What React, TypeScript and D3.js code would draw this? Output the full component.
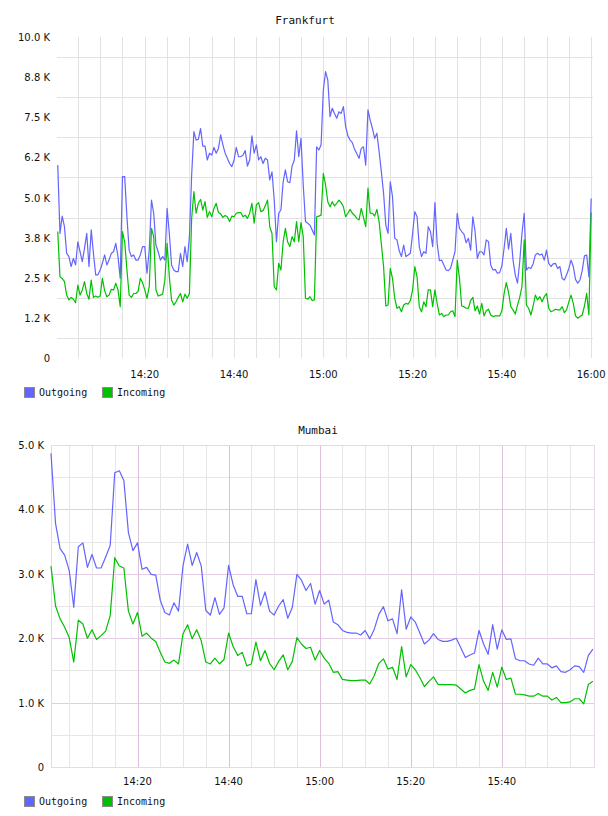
import React, { useRef, useEffect } from 'react'
import * as d3 from 'd3'

// traffic per site, values in K
const seriesNames = ['Outgoing', 'Incoming']
const seriesColors = ['#6464ff', '#00c000']

// Frankfurt: 30 s samples starting 14:00:30
const fraStart = '14:00:30'
const fraStepSec = 30
const fraOutgoing = [
  6.01, 3.88, 4.42, 4.09, 3.26, 3.16, 2.85, 3.10, 2.90, 3.62,
  3.31, 3.00, 3.42, 3.88, 2.85, 3.99, 3.26, 2.59, 2.59, 2.74,
  2.95, 3.21, 2.90, 3.05, 3.26, 3.31, 3.57, 3.16, 2.48, 5.65,
  5.65, 4.40, 3.36, 3.16, 3.21, 3.05, 3.05, 3.21, 3.47, 3.47,
  2.64, 3.36, 4.92, 4.51, 3.52, 3.31, 3.05, 3.16, 3.05, 4.66,
  3.88, 2.90, 2.74, 2.69, 2.69, 3.26, 2.85, 3.47, 3.00, 3.78,
  5.70, 7.05, 6.79, 6.81, 7.15, 6.60, 6.60, 6.17, 6.38, 6.32,
  6.56, 6.38, 6.53, 6.95, 6.64, 6.38, 6.22, 6.06, 5.96, 6.17,
  6.56, 6.27, 6.27, 6.32, 6.46, 5.98, 6.17, 6.92, 6.38, 6.64,
  6.17, 6.27, 6.06, 6.22, 6.17, 5.55, 5.80, 4.92, 3.62, 4.51,
  4.61, 5.49, 5.86, 5.49, 5.46, 5.98, 6.17, 7.08, 6.27, 6.84,
  5.39, 4.25, 4.20, 4.14, 3.99, 3.83, 6.58, 6.48, 6.64, 8.35,
  8.92, 8.66, 7.52, 7.78, 7.62, 7.47, 7.67, 7.62, 7.83, 7.21,
  6.92, 6.79, 6.71, 6.50, 6.36, 6.22, 6.53, 6.58, 6.01, 7.73,
  7.41, 7.15, 6.84, 7.00, 6.43, 5.80, 5.13, 4.14, 3.88, 5.49,
  5.03, 3.73, 3.68, 3.34, 3.16, 3.52, 3.16, 3.21, 3.26, 3.88,
  4.56, 4.40, 3.47, 3.16, 3.31, 3.26, 4.09, 3.94, 3.47, 4.84,
  3.57, 3.03, 3.05, 2.90, 2.74, 2.72, 2.79, 3.05, 3.31, 4.51,
  4.04, 3.94, 3.86, 3.59, 3.73, 3.36, 4.40, 3.94, 3.10, 3.31,
  3.31, 3.21, 3.68, 3.62, 2.90, 2.74, 2.76, 2.64, 2.66, 2.87,
  3.42, 4.04, 3.39, 3.88, 3.05, 2.59, 2.33, 3.00, 3.88, 4.51,
  2.74, 2.82, 2.79, 2.93, 3.21, 3.26, 3.21, 3.24, 3.05, 3.36,
  2.95, 2.85, 2.93, 2.95, 2.79, 2.85, 2.48, 2.43, 2.59, 2.79,
  3.05, 2.85, 2.45, 2.33, 2.43, 2.72, 3.18, 3.21, 2.53, 4.97
]
const fraIncoming = [
  3.94, 2.53, 2.48, 2.38, 1.96, 1.81, 1.89, 1.83, 1.72, 2.27,
  1.96, 2.12, 2.38, 2.01, 1.83, 2.43, 1.89, 1.93, 1.89, 1.93,
  2.48, 2.10, 1.91, 1.96, 2.14, 2.12, 2.33, 2.12, 1.60, 3.94,
  3.62, 2.74, 1.96, 1.89, 2.01, 2.01, 2.07, 2.48, 2.35, 2.12,
  1.86, 2.22, 4.04, 3.78, 2.12, 1.93, 1.96, 1.99, 2.43, 3.57,
  2.53, 1.81, 1.65, 1.75, 1.89, 2.01, 1.75, 1.99, 1.86, 2.01,
  4.35, 5.18, 4.51, 4.82, 4.94, 4.61, 4.87, 4.38, 4.56, 4.40,
  4.66, 4.82, 4.53, 4.49, 4.38, 4.44, 4.40, 4.25, 4.42, 4.40,
  4.51, 4.53, 4.53, 4.40, 4.45, 4.35, 4.51, 4.82, 4.20, 4.77,
  4.84, 4.56, 4.59, 4.74, 4.92, 4.09, 3.88, 2.22, 2.12, 2.95,
  2.74, 3.62, 4.04, 3.62, 3.47, 3.78, 3.62, 4.25, 3.62, 4.22,
  3.78, 1.86, 1.83, 1.91, 1.79, 1.81, 4.40, 4.42, 4.45, 5.75,
  5.39, 4.87, 4.71, 4.87, 4.74, 4.82, 4.92, 4.84, 4.71, 4.40,
  4.51, 4.63, 4.51, 4.44, 4.35, 4.30, 4.66, 4.38, 4.09, 5.29,
  4.51, 4.51, 4.42, 4.63, 4.25, 3.55, 2.85, 1.62, 1.65, 2.79,
  2.48, 1.86, 1.55, 1.60, 1.44, 1.65, 1.70, 1.68, 1.79, 2.12,
  2.85, 2.53, 1.60, 1.44, 1.75, 1.60, 2.12, 2.12, 1.60, 2.12,
  1.70, 1.34, 1.39, 1.29, 1.34, 1.34, 1.44, 1.47, 1.29, 3.05,
  2.48, 1.62, 1.60, 1.55, 1.55, 1.79, 1.89, 1.47, 1.62, 1.37,
  1.70, 1.31, 1.47, 1.52, 1.34, 1.29, 1.31, 1.31, 1.31, 1.47,
  2.01, 2.35, 2.04, 1.60, 1.50, 1.37, 1.65, 1.89, 2.22, 3.68,
  1.65, 1.55, 1.34, 1.62, 1.96, 1.81, 1.91, 1.75, 1.91, 2.01,
  1.55, 1.44, 1.47, 1.52, 1.50, 1.50, 1.60, 1.41, 1.50, 1.75,
  1.96, 1.70, 1.31, 1.24, 1.29, 1.34, 1.62, 2.01, 1.34, 4.53
]
const fraYTicks = [0, 1.25, 2.5, 3.75, 5, 6.25, 7.5, 8.75, 10]
const fraYLabels = ['0', '1.2 K', '2.5 K', '3.8 K', '5.0 K', '6.2 K', '7.5 K', '8.8 K', '10.0 K']
const fraTimeLabels = ['14:20', '14:40', '15:00', '15:20', '15:40', '16:00']

// Mumbai: 1 min samples starting 14:01
const mumStart = '14:01:00'
const mumStepSec = 60
const mumOutgoing = [
  4.87, 3.78, 3.39, 3.29, 3.05, 2.48, 3.42, 3.48, 3.10, 3.30,
  3.09, 3.09, 3.26, 3.44, 4.57, 4.60, 4.45, 3.64, 3.36, 3.48,
  3.07, 3.10, 2.99, 2.98, 2.59, 2.40, 2.36, 2.55, 2.42, 3.13,
  3.46, 3.13, 3.33, 3.12, 2.43, 2.36, 2.63, 2.37, 2.47, 3.13,
  2.83, 2.65, 2.65, 2.38, 2.38, 2.91, 2.51, 2.72, 2.42, 2.36,
  2.50, 2.60, 2.31, 2.48, 2.99, 2.90, 2.74, 2.85, 2.53, 2.74,
  2.53, 2.59, 2.25, 2.21, 2.12, 2.09, 2.08, 2.08, 2.05, 2.12,
  1.99, 2.14, 2.37, 2.49, 2.27, 2.30, 2.07, 2.75, 2.14, 2.33,
  2.25, 2.08, 1.91, 1.97, 2.07, 1.98, 1.95, 1.95, 1.97, 2.00,
  1.85, 1.70, 1.74, 1.77, 2.12, 1.91, 1.75, 2.21, 1.83, 2.13,
  1.98, 1.99, 1.68, 1.65, 1.65, 1.60, 1.58, 1.69, 1.60, 1.60,
  1.54, 1.57, 1.48, 1.47, 1.51, 1.57, 1.56, 1.47, 1.73, 1.83
]
const mumIncoming = [
  3.12, 2.50, 2.30, 2.17, 2.01, 1.63, 2.28, 2.22, 2.00, 2.13,
  1.98, 2.04, 2.11, 2.35, 3.25, 3.12, 3.09, 2.42, 2.22, 2.40,
  2.03, 2.08, 2.00, 1.95, 1.78, 1.63, 1.61, 1.66, 1.60, 2.07,
  2.21, 1.99, 2.13, 1.96, 1.63, 1.60, 1.69, 1.60, 1.67, 2.08,
  1.87, 1.73, 1.78, 1.57, 1.60, 1.94, 1.65, 1.81, 1.61, 1.51,
  1.64, 1.74, 1.51, 1.64, 2.01, 1.91, 1.84, 1.86, 1.66, 1.81,
  1.69, 1.61, 1.47, 1.48, 1.36, 1.35, 1.34, 1.34, 1.35, 1.35,
  1.29, 1.42, 1.61, 1.68, 1.52, 1.55, 1.36, 1.87, 1.40, 1.59,
  1.51, 1.39, 1.25, 1.33, 1.40, 1.28, 1.28, 1.28, 1.28, 1.27,
  1.21, 1.15, 1.19, 1.21, 1.59, 1.33, 1.19, 1.47, 1.24, 1.55,
  1.36, 1.38, 1.13, 1.13, 1.12, 1.10, 1.10, 1.14, 1.10, 1.10,
  1.04, 1.08, 1.00, 1.00, 1.01, 1.06, 1.06, 0.98, 1.28, 1.33
]
const mumYTicks = [0, 1, 2, 3, 4, 5]
const mumYLabels = ['0', '1.0 K', '2.0 K', '3.0 K', '4.0 K', '5.0 K']
const mumTimeLabels = ['14:20', '14:40', '15:00', '15:20', '15:40']

const parseSec = d3.timeParse('%H:%M:%S')
const parseMin = d3.timeParse('%H:%M')

const toPoints = (start, stepSec, values) => {
  const t0 = parseSec(start)
  return values.map((v, i) => ({ t: d3.timeSecond.offset(t0, i * stepSec), v }))
}

const panels = [
  {
    title: 'Frankfurt', titleX: 305, titleY: 24,
    left: 57, right: 593, top: 37, bottom: 358,
    domain: ['14:00:20', '16:00:25'], yMax: 10,
    yTicks: fraYTicks, yLabels: fraYLabels, labelRight: 50,
    timeLabels: fraTimeLabels, timeLabelY: 378, legendY: 387,
    series: [toPoints(fraStart, fraStepSec, fraOutgoing), toPoints(fraStart, fraStepSec, fraIncoming)],
    framed: false
  },
  {
    title: 'Mumbai', titleX: 318, titleY: 434,
    left: 51, right: 594, top: 445, bottom: 767,
    domain: ['14:01:00', '16:00:15'], yMax: 5,
    yTicks: mumYTicks, yLabels: mumYLabels, labelRight: 44,
    timeLabels: mumTimeLabels, timeLabelY: 785, legendY: 796,
    series: [toPoints(mumStart, mumStepSec, mumOutgoing), toPoints(mumStart, mumStepSec, mumIncoming)],
    framed: true
  }
]

const crisp = v => Math.round(v) + 0.5

function drawPanel(svg, p) {
  const g = svg.append('g')
  const x = d3.scaleTime().domain(p.domain.map(parseSec)).range([p.left, p.right])
  const y = d3.scaleLinear().domain([0, p.yMax]).range([p.bottom, p.top])

  const minutes = d3.timeMinute.every(5).range(x.domain()[0], x.domain()[1])

  if (p.framed) {
    // half-K minor lines, whole-K major lines, 20-min major verticals
    d3.range(0.5, p.yMax, 0.5).forEach(v => {
      const major = v % 1 === 0
      g.append('line')
        .attr('x1', p.left).attr('x2', p.right)
        .attr('y1', crisp(y(v))).attr('y2', crisp(y(v)))
        .attr('stroke', major ? '#e4cce4' : '#e6e6e6')
    })
    minutes
      .filter(t => x(t) > p.left + 3 && x(t) < p.right - 3)
      .forEach(t => {
        const major = t.getMinutes() % 20 === 0
        g.append('line')
          .attr('x1', crisp(x(t))).attr('x2', crisp(x(t)))
          .attr('y1', p.top).attr('y2', p.bottom)
          .attr('stroke', major ? '#dcc0dc' : '#e6e6e6')
      })
    g.append('rect')
      .attr('x', crisp(p.left)).attr('y', crisp(p.top))
      .attr('width', Math.round(p.right - p.left)).attr('height', Math.round(p.bottom - p.top))
      .attr('fill', 'none')
      .attr('stroke', '#ead8ea')
  } else {
    // horizontal lines sit halfway between the labelled values
    d3.pairs(p.yTicks).map(([a, b]) => (a + b) / 2).forEach(v => {
      g.append('line')
        .attr('x1', p.left).attr('x2', p.right)
        .attr('y1', crisp(y(v))).attr('y2', crisp(y(v)))
        .attr('stroke', '#e2e2e2')
    })
    minutes
      .filter(t => x(t) > p.left + 3)
      .forEach(t => {
        g.append('line')
          .attr('x1', crisp(x(t))).attr('x2', crisp(x(t)))
          .attr('y1', p.top).attr('y2', p.bottom)
          .attr('stroke', '#e2e2e2')
      })
  }

  // series lines
  const line = d3.line()
    .x(d => x(d.t))
    .y(d => y(d.v))
  p.series.forEach((pts, i) => {
    g.append('path')
      .attr('d', line(pts))
      .attr('fill', 'none')
      .attr('stroke', seriesColors[i])
      .attr('stroke-width', 1.2)
      .attr('stroke-linejoin', 'round')
  })

  // title
  g.append('text')
    .attr('x', p.titleX).attr('y', p.titleY)
    .attr('text-anchor', 'middle')
    .style('font-family', '"DejaVu Sans Mono", monospace')
    .style('font-size', '11px')
    .attr('fill', '#111')
    .text(p.title)

  // y labels
  p.yTicks.forEach((v, i) => {
    g.append('text')
      .attr('x', p.labelRight).attr('y', y(v) + 4)
      .attr('text-anchor', 'end')
      .style('font-family', '"DejaVu Sans", sans-serif')
      .style('font-size', '10px')
      .attr('fill', '#111')
      .text(p.yLabels[i])
  })

  // time labels
  p.timeLabels.forEach(s => {
    g.append('text')
      .attr('x', x(parseMin(s))).attr('y', p.timeLabelY)
      .attr('text-anchor', 'middle')
      .style('font-family', '"DejaVu Sans", sans-serif')
      .style('font-size', '10px')
      .attr('fill', '#111')
      .text(s)
  })

  // legend
  const legendX = [24, 102]
  seriesNames.forEach((name, i) => {
    g.append('rect')
      .attr('x', legendX[i] + 0.5).attr('y', p.legendY + 0.5)
      .attr('width', 10).attr('height', 10)
      .attr('fill', seriesColors[i])
      .attr('stroke', '#8c8c8c')
    g.append('text')
      .attr('x', legendX[i] + 15).attr('y', p.legendY + 9)
      .style('font-family', '"DejaVu Sans Mono", monospace')
      .style('font-size', '10px')
      .attr('fill', '#111')
      .text(name)
  })
}

export default function App() {
  const svgRef = useRef(null)
  const width = 608
  const height = 816

  useEffect(() => {
    const svg = d3.select(svgRef.current)
    svg.selectAll('*').remove()
    svg.append('rect').attr('width', width).attr('height', height).attr('fill', '#fff')
    panels.forEach(p => drawPanel(svg, p))
  }, [])

  return (
    <svg
      ref={svgRef}
      width={width}
      height={height}
      style={{ position: 'absolute', left: 0, top: 0, display: 'block' }}
    />
  )
}
